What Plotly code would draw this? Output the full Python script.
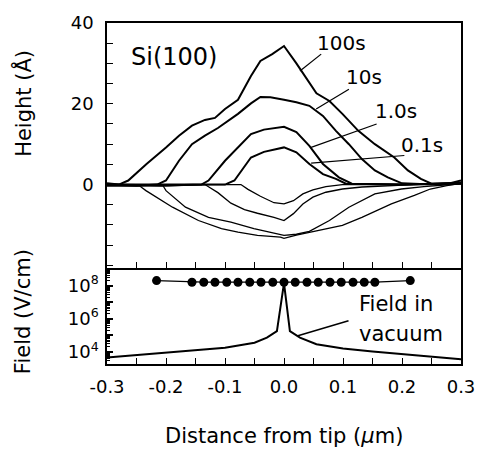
import plotly.graph_objects as go

# ---------------- data ----------------
# Height profiles (Angstrom) vs distance from tip (um)
x_100s = [-0.3, -0.28, -0.264, -0.233, -0.2, -0.178, -0.156, -0.134, -0.117, -0.1, -0.078, -0.056, -0.04, -0.02, 0.0,
          0.021, 0.055, 0.077, 0.099, 0.126, 0.154, 0.187, 0.21, 0.232, 0.25, 0.28, 0.3]
y_100s = [0.3, 0.0, 1.0, 5.1, 9.2, 12.1, 14.6, 16.0, 16.5, 18.7, 21.0, 26.9, 30.6, 32.3, 34.3,
          30.0, 22.6, 20.7, 17.5, 13.3, 10.0, 6.7, 3.5, 1.4, 0.2, 0.3, 1.0]

x_10s = [-0.3, -0.25, -0.215, -0.2, -0.178, -0.156, -0.134, -0.112, -0.078, -0.056, -0.04, -0.023, 0.0,
         0.021, 0.043, 0.066, 0.088, 0.11, 0.132, 0.154, 0.176, 0.2, 0.25, 0.3]
y_10s = [0.0, -0.3, 0.0, 1.0, 5.9, 10.0, 12.1, 14.0, 17.5, 20.1, 21.7, 21.6, 21.0,
         20.4, 19.5, 17.0, 13.3, 10.0, 6.3, 3.5, 1.8, 0.3, 0.0, 0.5]

x_1s = [-0.3, -0.2, -0.14, -0.128, -0.1, -0.078, -0.056, -0.034, 0.0, 0.021, 0.043, 0.066, 0.093, 0.115, 0.2, 0.3]
y_1s = [0.0, -0.2, 0.0, 1.0, 5.9, 9.2, 12.5, 13.6, 14.3, 13.0, 9.6, 5.1, 1.8, 0.2, 0.0, 0.3]

x_01s = [-0.3, -0.2, -0.1, -0.084, -0.056, -0.034, 0.0, 0.021, 0.043, 0.066, 0.088, 0.105, 0.2, 0.3]
y_01s = [0.0, 0.0, 0.0, 1.0, 6.7, 8.1, 9.2, 8.0, 5.1, 2.6, 1.4, 0.2, 0.0, 0.3]

x_n1 = [-0.3, -0.2, -0.073, -0.061, -0.04, -0.017, 0.0, 0.016, 0.032, 0.049, 0.071, 0.099, 0.2, 0.3]
y_n1 = [0.0, 0.0, 0.0, -1.2, -2.9, -4.5, -4.8, -4.0, -2.3, -1.3, -0.5, 0.0, 0.0, 0.2]

x_n2 = [-0.3, -0.2, -0.134, -0.112, -0.09, -0.067, -0.045, -0.017, 0.0, 0.016, 0.032, 0.049, 0.071, 0.099, 0.132, 0.176, 0.22, 0.3]
y_n2 = [0.0, -0.3, 0.0, -2.0, -4.6, -6.2, -7.1, -8.1, -8.9, -7.2, -4.8, -3.1, -1.9, -1.1, -0.6, -0.3, 0.0, 0.2]

x_n3 = [-0.3, -0.205, -0.2, -0.167, -0.128, -0.09, -0.051, -0.012, 0.0, 0.021, 0.043, 0.077, 0.11, 0.154, 0.199, 0.237, 0.3]
y_n3 = [-0.3, -0.3, -1.5, -5.6, -8.1, -9.3, -10.9, -12.2, -12.6, -12.3, -11.6, -8.9, -5.6, -2.3, -1.1, -0.5, 0.2]

x_n4 = [-0.3, -0.245, -0.234, -0.189, -0.145, -0.106, -0.078, -0.045, -0.006, 0.0, 0.021, 0.055, 0.099, 0.132, 0.182, 0.221, 0.248, 0.276, 0.3]
y_n4 = [-0.3, -0.3, -1.5, -5.6, -8.9, -10.9, -11.8, -12.6, -13.0, -13.3, -12.5, -11.4, -10.1, -8.1, -4.8, -2.7, -1.1, -0.25, 0.3]

# Field (V/cm): field under tip (dots) and field in vacuum (line)
x_dots = [-0.216, -0.156, -0.136, -0.117, -0.097, -0.078, -0.058, -0.039, -0.019, 0.0,
          0.019, 0.039, 0.058, 0.078, 0.097, 0.117, 0.136, 0.154, 0.214]
f_dots = [2.0e8, 1.6e8, 1.6e8, 1.6e8, 1.6e8, 1.6e8, 1.6e8, 1.6e8, 1.6e8, 1.6e8,
          1.6e8, 1.6e8, 1.6e8, 1.6e8, 1.6e8, 1.6e8, 1.6e8, 1.6e8, 2.0e8]

x_vac = [-0.3, -0.25, -0.2, -0.15, -0.1, -0.05, -0.029, -0.012, 0.0, 0.01, 0.027, 0.055, 0.1, 0.15, 0.2, 0.25, 0.3]
f_vac = [4.6e3, 6.5e3, 9.1e3, 1.26e4, 1.8e4, 3.6e4, 7.2e4, 1.8e5, 1.4e8, 1.8e5, 7.2e4, 2.9e4, 1.6e4, 1.05e4, 7.2e3, 5.0e3, 3.6e3]

x_ticks = [-0.3, -0.2, -0.1, 0.0, 0.1, 0.2, 0.3]
x_ticklabels = ["-0.3", "-0.2", "-0.1", "0.0", "0.1", "0.2", "0.3"]
h_ticks = [0, 20, 40]
f_ticks = [1e4, 1e5, 1e6, 1e7, 1e8, 1e9]
f_ticklabels = ["10<sup>4</sup>", "", "10<sup>6</sup>", "", "10<sup>8</sup>", ""]

FONT = "DejaVu Sans"
K = "black"

fig = go.Figure()

for xs, ys in [(x_100s, y_100s), (x_10s, y_10s), (x_1s, y_1s), (x_01s, y_01s)]:
    fig.add_trace(go.Scatter(x=xs, y=ys, mode="lines", line=dict(color=K, width=2),
                             xaxis="x2", yaxis="y2", showlegend=False, hoverinfo="skip"))
for xs, ys in [(x_n1, y_n1), (x_n2, y_n2), (x_n3, y_n3), (x_n4, y_n4)]:
    fig.add_trace(go.Scatter(x=xs, y=ys, mode="lines", line=dict(color=K, width=1.3),
                             xaxis="x2", yaxis="y2", showlegend=False, hoverinfo="skip"))

fig.add_trace(go.Scatter(x=x_vac, y=f_vac, mode="lines", line=dict(color=K, width=2),
                         xaxis="x", yaxis="y", showlegend=False))
fig.add_trace(go.Scatter(x=x_dots, y=f_dots, mode="lines+markers", line=dict(color=K, width=1.3),
                         marker=dict(color=K, size=9), xaxis="x", yaxis="y", showlegend=False))

# geometry
W, H = 487, 451
ml, mr, mt, mb = 107, 19, 21.5, 87.3
split = 0.281

minor_log = [m * 10 ** e for e in range(3, 9) for m in range(2, 10)]
minor_x = [-0.25, -0.15, -0.05, 0.05, 0.15, 0.25]

axline = dict(showline=True, linecolor=K, linewidth=1.5, showgrid=False, zeroline=False)

fig.update_layout(
    width=W, height=H,
    margin=dict(l=ml, r=mr, t=mt, b=mb),
    paper_bgcolor="white", plot_bgcolor="white",
    font=dict(family=FONT, color=K, size=18),
    xaxis=dict(domain=[0, 1], anchor="y", range=[-0.3, 0.3], tickmode="array", mirror=False,
               tickvals=x_ticks, ticktext=x_ticklabels, ticks="inside", ticklen=6, tickwidth=1.3,
               tickcolor=K, tickfont=dict(size=18), ticklabelstandoff=6,
               minor=dict(tickmode="array", tickvals=minor_x, ticks="inside", ticklen=6, tickwidth=1.3, tickcolor=K),
               **axline),
    xaxis2=dict(domain=[0, 1], anchor="y2", matches="x", range=[-0.3, 0.3], tickmode="array", mirror=True,
                tickvals=x_ticks, showticklabels=False, ticks="inside", ticklen=6, tickwidth=1.3,
                tickcolor=K,
                minor=dict(tickmode="array", tickvals=minor_x, ticks="inside", ticklen=6, tickwidth=1.3, tickcolor=K),
                **axline),
    yaxis=dict(domain=[0, split], anchor="x", type="log", range=[3.27, 9.05], tickmode="array", mirror=True,
               tickvals=f_ticks, ticktext=f_ticklabels, ticks="inside", ticklen=6, tickwidth=1.5,
               tickcolor=K, tickfont=dict(size=18), ticklabelstandoff=3,
               minor=dict(tickmode="array", tickvals=minor_log, ticks="inside", ticklen=3, tickwidth=1, tickcolor=K),
               **axline),
    yaxis2=dict(domain=[split, 1], anchor="x2", range=[-20.7, 40], tickmode="array", mirror=True,
                tickvals=h_ticks, ticks="inside", ticklen=6, tickwidth=1.3, tickcolor=K,
                tickfont=dict(size=18), ticklabelstandoff=8,
                minor=dict(dtick=5, tick0=0, ticks="inside", ticklen=6, tickwidth=1.3, tickcolor=K),
                **axline),
)


def px2paper(px, py):
    return (px - ml) / (W - ml - mr), (H - mb - py) / (H - mt - mb)


ann = []
ann.append(dict(x=-0.186, y=31.7, xref="x2", yref="y2", text="Si(100)", showarrow=False,
                xanchor="center", yanchor="middle", font=dict(size=24)))
for txt, xx, yy in [("100s", 0.097, 35.0), ("10s", 0.135, 26.7), ("1.0s", 0.19, 18.1), ("0.1s", 0.2345, 9.8)]:
    ann.append(dict(x=xx, y=yy, xref="x2", yref="y2", text=txt, showarrow=False,
                    xanchor="center", yanchor="middle", font=dict(size=20)))

for txt, (px, py) in [("Field in", (362, 303.7)), ("vacuum", (362, 333.7))]:
    fx, fy = px2paper(px, py)
    ann.append(dict(x=fx, y=fy, xref="paper", yref="paper", text=txt, xanchor="left", yanchor="middle",
                    showarrow=False, font=dict(size=21)))

for txt, (px, py), ang in [("Height (Å)", (22, 102), -90), ("Field (V/cm)", (22, 311), -90),
                           ("Distance from tip (<i>μ</i>m)", (287, 436), 0)]:
    fx, fy = px2paper(px, py)
    ann.append(dict(x=fx, y=fy, xref="paper", yref="paper", text=txt, showarrow=False, textangle=ang,
                    xanchor="center", yanchor="middle", font=dict(size=21)))

fig.update_layout(annotations=ann)

shapes = []
for (x0, y0, x1, y1) in [(0.063, 32.3, 0.027, 28.1), (0.110, 23.6, 0.0545, 18.7),
                         (0.157, 15.0, 0.046, 9.2), (0.204, 7.2, 0.046, 5.3)]:
    shapes.append(dict(type="line", xref="x2", yref="y2", x0=x0, y0=y0, x1=x1, y1=y1,
                       line=dict(color=K, width=1.2)))
a0 = px2paper(301.7, 335.3)
a1 = px2paper(353.3, 320.3)
shapes.append(dict(type="line", xref="paper", yref="paper", x0=a0[0], y0=a0[1], x1=a1[0], y1=a1[1],
                   line=dict(color=K, width=1.5)))
fig.update_layout(shapes=shapes)

fig.write_html("out.html", config={"displayModeBar": False},
               post_script="document.body.style.margin='0';")
